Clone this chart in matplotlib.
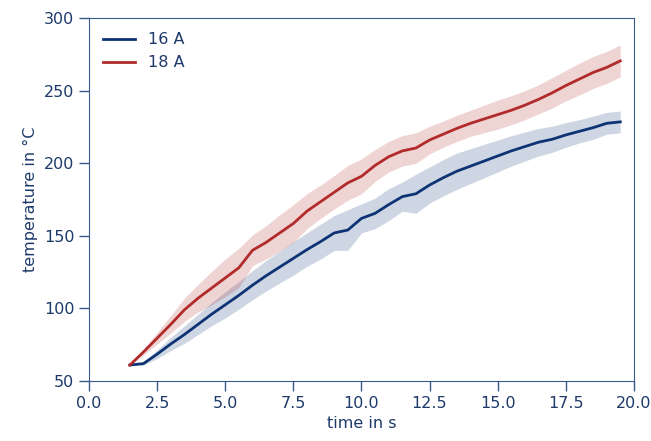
import numpy as np
import matplotlib.pyplot as plt

# time axis (s)
t = np.arange(1.5, 19.51, 0.5)

# 16 A: mean temperature and spread
temp_16 = [61, 62, 68.5, 75.5, 82, 89, 96, 102.5, 109, 116, 122.5, 128.5, 134.5,
           140.5, 146, 152, 154, 162, 165.5, 171.5, 177, 179, 185, 190, 194.5,
           198, 201.5, 205, 208.5, 211.5, 214.5, 216.5, 219.5, 222, 224.5, 227.5, 228.5]
std_16 = [0, 1, 3, 4.5, 6, 7, 8, 9, 9.5, 10, 10.5, 11, 11.5, 11.5, 12, 12, 14,
          10, 10.5, 11, 10, 13.5, 12.5, 12.5, 12.5, 12, 11.5, 11, 10.5, 10, 9.5,
          9, 8.5, 8, 8, 7.5, 7.5]

# 18 A
temp_18 = [61, 70, 79.5, 89, 99, 107, 114, 121, 128, 140, 145.5, 152, 158.5,
           167, 173.5, 180, 186.5, 191, 198.5, 204.5, 208.5, 210.5, 216, 220, 224,
           227.5, 230.5, 233.5, 236.5, 240, 244, 248.5, 253.5, 258, 262.5, 266, 270.5]
std_18 = [0, 2, 4, 6, 8, 9.5, 11.5, 13, 13.5, 10.5, 11.5, 12.5, 13, 12, 11.5, 11.5,
          12, 12, 11, 10.5, 10.5, 10.5, 9.5, 9, 9, 9, 9.5, 10, 10, 10, 10, 10.5,
          10.5, 11, 11, 11, 11]

blue = '#0d3375'
red = '#b22b2b'
txt = '#1d3a6b'

plt.rcParams['font.size'] = 11.5
fig = plt.figure(figsize=(6.51, 4.41), dpi=100)
ax = fig.add_axes([0.1367, 0.136, 0.837, 0.823])

for y, s, c, lab in [(temp_16, std_16, blue, '16 A'), (temp_18, std_18, red, '18 A')]:
    y = np.array(y)
    s = np.array(s)
    ax.fill_between(t, y - s, y + s, color=c, alpha=0.2, lw=0)
    ax.plot(t, y, color=c, lw=2, label=lab)

ax.set_xlim(0, 20)
ax.set_ylim(50, 300)
ax.set_xticks(np.arange(0, 20.1, 2.5))
ax.set_xlabel('time in s', color=txt)
ax.set_ylabel('temperature in °C', color=txt)
for sp in ax.spines.values():
    sp.set_color('#3a5a8c')
ax.tick_params(colors='#3a5a8c', labelcolor=txt, length=7, width=1)

leg = ax.legend(loc='upper left', frameon=False)
for tx in leg.get_texts():
    tx.set_color(txt)

fig.savefig('out.png', dpi=100)
